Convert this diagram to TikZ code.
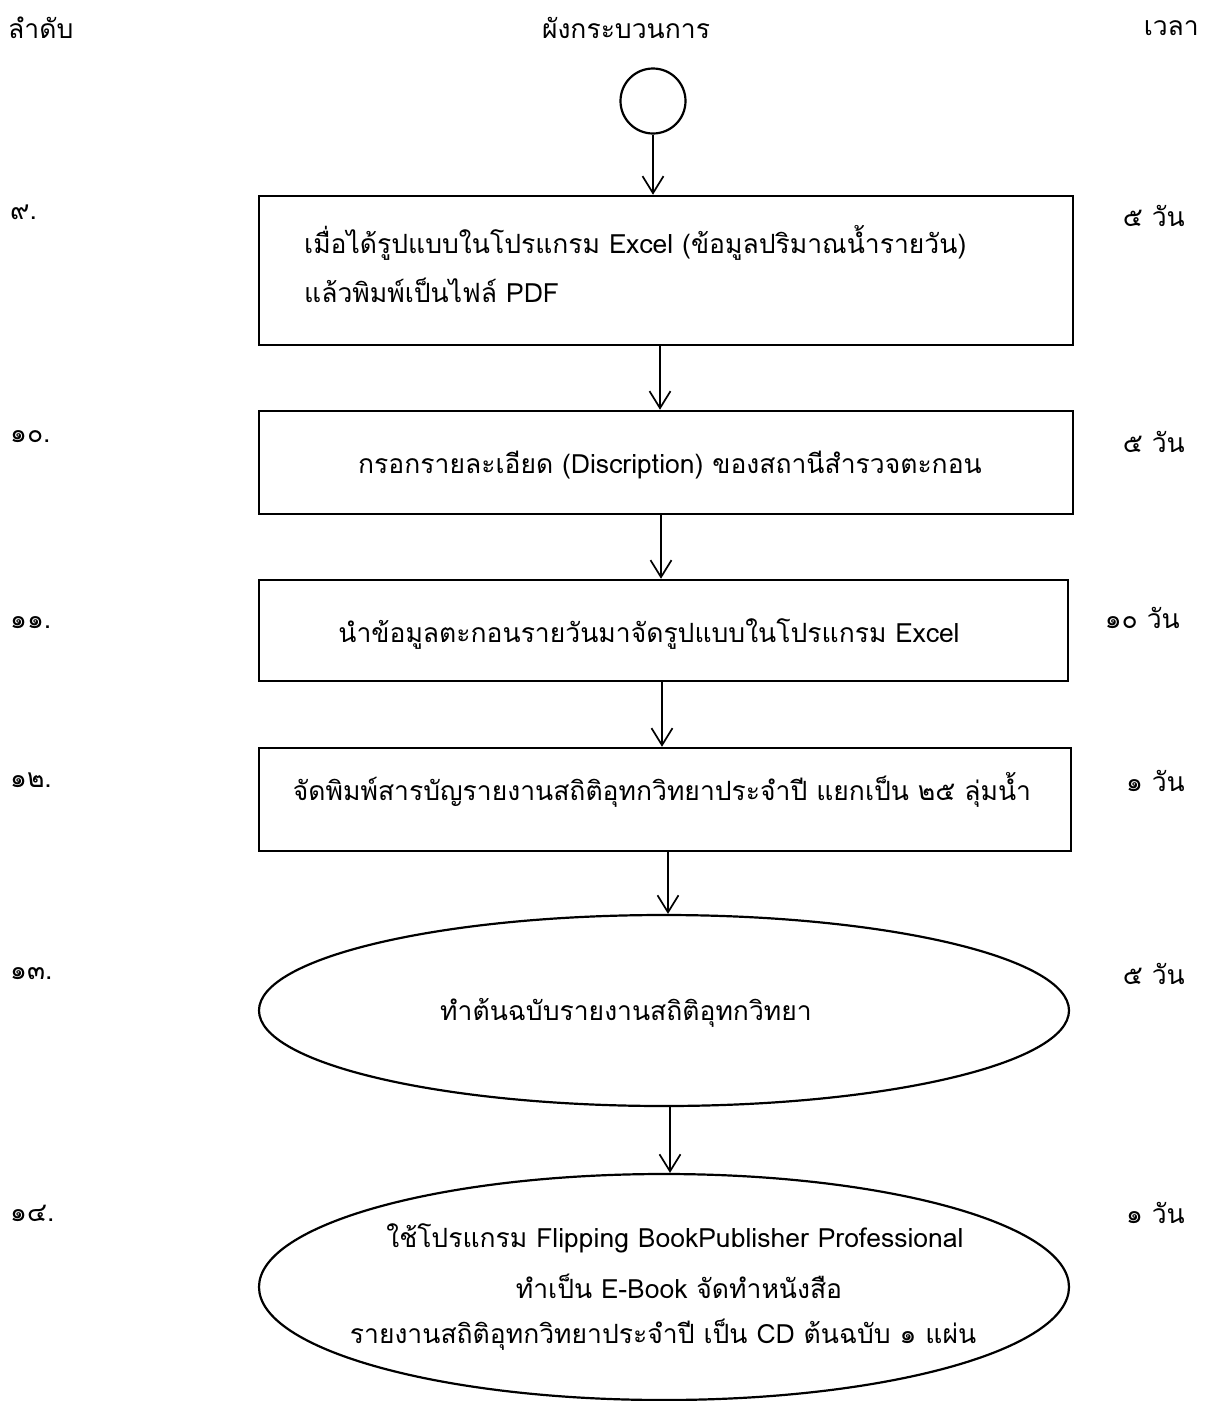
\documentclass[tikz,border=0pt]{standalone}
\usepackage{fontspec}
\newfontfamily\thaifont[Script=Thai]{Loma}
\usetikzlibrary{arrows.meta,shapes.geometric}
\begin{document}
\begin{tikzpicture}[x=1pt,y=-1pt,
  every node/.style={font=\thaifont\fontsize{26.5}{34}\selectfont, inner sep=0pt},
  procbox/.style={draw, line width=2.5pt, rectangle},
  termshape/.style={draw, line width=2.2pt, ellipse},
  startshape/.style={draw, line width=2.2pt, circle, minimum size=65pt},
  flowarrow/.style={line width=1.7pt, -{Straight Barb[length=17pt,width=21pt]}},
  steplabel/.style={anchor=west},
  timelabel/.style={anchor=east}
]
\useasboundingbox (0,0) rectangle (1207,1401);

% headers
\node[anchor=west] (h1) at (8,28) {ลำดับ};
\node (h2) at (626,28) {ผังกระบวนการ};
\node[anchor=east] (h3) at (1199,28) {เวลา};

% shapes
\node[startshape] (start) at (653,101) {};
\node[procbox, minimum width=814pt, minimum height=149pt] (b1) at (666,270.5) {};
\node[anchor=west] (t1a) at (304,243) {เมื่อได้รูปแบบในโปรแกรม Excel (ข้อมูลปริมาณน้ำรายวัน)};
\node[anchor=west] (t1b) at (304,290) {แล้วพิมพ์เป็นไฟล์ PDF};

\node[procbox, minimum width=814pt, minimum height=103pt] (b2) at (666,462.5) {};
\node (t2) at (670,465) {กรอกรายละเอียด (Discription) ของสถานีสำรวจตะกอน};

\node[procbox, minimum width=809pt, minimum height=101pt] (b3) at (663.5,630.5) {};
\node (t3) at (649,634) {นำข้อมูลตะกอนรายวันมาจัดรูปแบบในโปรแกรม Excel};

\node[procbox, minimum width=812pt, minimum height=103pt] (b4) at (665,799.5) {};
\node (t4) at (662,790) {จัดพิมพ์สารบัญรายงานสถิติอุทกวิทยาประจำปี แยกเป็น ๒๕ ลุ่มน้ำ};

\node[termshape, minimum width=810pt, minimum height=191pt] (e1) at (664,1010.5) {};
\node (t5) at (626,1013) {ทำต้นฉบับรายงานสถิติอุทกวิทยา};

\node[termshape, minimum width=810pt, minimum height=226pt] (e2) at (664,1287) {};
\node (t6a) at (675,1238) {ใช้โปรแกรม Flipping BookPublisher Professional};
\node (t6b) at (679,1286) {ทำเป็น E-Book จัดทำหนังสือ};
\node (t6c) at (663,1335) {รายงานสถิติอุทกวิทยาประจำปี เป็น CD ต้นฉบับ ๑ แผ่น};

% connectors
\coordinate (xa) at (653,0);
\coordinate (xb) at (660,0);
\coordinate (xc) at (661,0);
\coordinate (xd) at (662,0);
\coordinate (xe) at (668,0);
\coordinate (xf) at (670,0);
\draw[flowarrow] (start.south) -- (b1.north -| xa);
\draw[flowarrow] (b1.south -| xb) -- (b2.north -| xb);
\draw[flowarrow] (b2.south -| xc) -- (b3.north -| xc);
\draw[flowarrow] (b3.south -| xd) -- (b4.north -| xd);
\draw[flowarrow] (b4.south -| xe) -- (e1.north -| xe);
\draw[flowarrow] (e1.south -| xf) -- (e2.north -| xf);

% step numbers
\node[steplabel] (n9) at (10,212) {๙.};
\node[steplabel] (n10) at (10,437) {๑๐.};
\node[steplabel] (n11) at (10,623) {๑๑.};
\node[steplabel] (n12) at (10,780) {๑๒.};
\node[steplabel] (n13) at (10,974) {๑๓.};
\node[steplabel] (n14) at (10,1213) {๑๔.};

% times
\node[timelabel] (d9) at (1185,216) {๕ วัน};
\node[timelabel] (d10) at (1185,442) {๕ วัน};
\node[timelabel] (d11) at (1180,618) {๑๐ วัน};
\node[timelabel] (d12) at (1185,781) {๑ วัน};
\node[timelabel] (d13) at (1185,974) {๕ วัน};
\node[timelabel] (d14) at (1185,1213) {๑ วัน};
\end{tikzpicture}
\end{document}
